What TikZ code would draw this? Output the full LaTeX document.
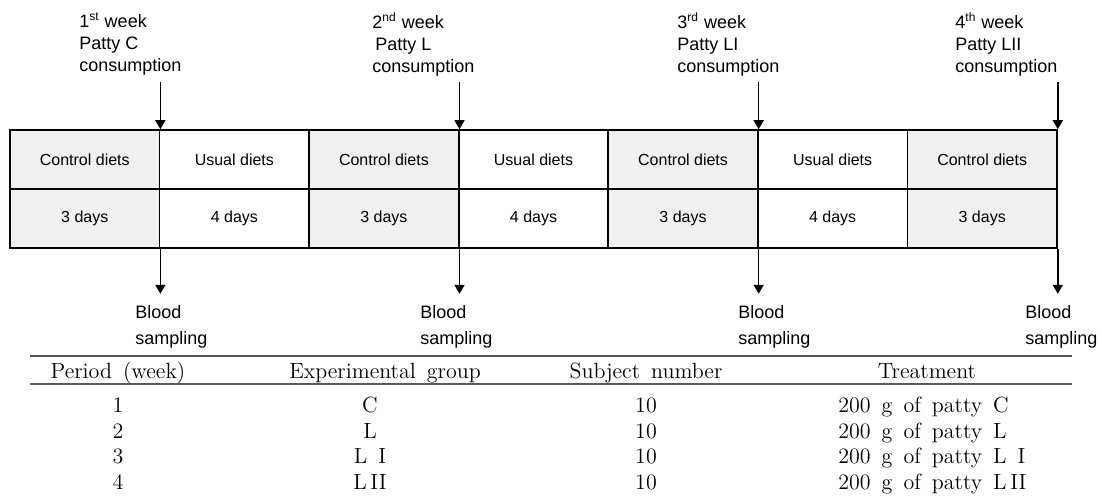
\documentclass[tikz,border=0pt]{standalone}
\usepackage{fontspec}
\setsansfont{Liberation Sans}
\usetikzlibrary{arrows.meta}

\tikzset{
    dietcell/.style={draw, line width=0.8pt, minimum width=74.79pt, minimum height=29.5pt, inner sep=0pt, font=\sffamily\fontsize{8}{10}\selectfont},
    weeklabel/.style={anchor=north west, align=left, inner sep=0pt, font=\sffamily\fontsize{9}{11}\selectfont},
    bloodlabel/.style={anchor=north west, align=left, inner sep=0pt, font=\sffamily\fontsize{9}{13}\selectfont},
    timearrow/.style={line width=0.8pt, -{Triangle[width=5pt,length=4.5pt]}},
    tablerule/.style={line width=0.9pt, black!65},
    tabtext/.style={inner sep=0pt, font={\fontsize{11}{13}\selectfont\addfontfeatures{LetterSpace=5}\spaceskip=0.5em\relax}}
}

\begin{document}
\begin{tikzpicture}[x=0.5pt, y=-0.5pt]
        \useasboundingbox (0,0) rectangle (1100,500);
        \foreach \i/\diet/\days/\shade in {1/Control diets/3 days/black!6, 2/Usual diets/4 days/white,
            3/Control diets/3 days/black!6, 4/Usual diets/4 days/white, 5/Control diets/3 days/black!6,
            6/Usual diets/4 days/white, 7/Control diets/3 days/black!6} {
            \node[dietcell, fill=\shade] (diet\i) at ({10+(\i-0.5)*149.57},159.5) {\diet};
            \node[dietcell, fill=\shade] (days\i) at ({10+(\i-0.5)*149.57},218.5) {\days};
        }

        \node[weeklabel] (wk1) at (79,12) {1\textsuperscript{st} week\\Patty C\\consumption};
        \node[weeklabel] (wk2) at (372,12) {2\textsuperscript{nd} week\\\hspace{1.5pt}Patty L\\consumption};
        \node[weeklabel] (wk3) at (677,12) {3\textsuperscript{rd} week\\Patty LI\\consumption};
        \node[weeklabel] (wk4) at (955,12) {4\textsuperscript{th} week\\Patty LII\\consumption};

        \foreach \i/\c in {1/1, 2/3, 3/5, 4/7} {
            \coordinate (eat\i) at ([yshift=23.5pt]diet\c.north east);
            \coordinate (draw\i) at ([yshift=-22.5pt]days\c.south east);
            \draw[timearrow] (eat\i) -- (diet\c.north east);
            \draw[timearrow] (days\c.south east) -- (draw\i);
        }

        \node[bloodlabel] (bs1) at (135,305) {Blood\\sampling};
        \node[bloodlabel] (bs2) at (420,305) {Blood\\sampling};
        \node[bloodlabel] (bs3) at (738,305) {Blood\\sampling};
        \node[bloodlabel] (bs4) at (1025,305) {Blood\\sampling};

        \draw[tablerule] (30,356) -- (1072,356);
        \draw[tablerule] (30,384) -- (1072,384);
        \node[tabtext, anchor=base] (hper) at (118,378) {Period (week)};
        \node[tabtext, anchor=base] (hgrp) at (385,378) {Experimental group};
        \node[tabtext, anchor=base] (hnum) at (646,378) {Subject number};
        \node[tabtext, anchor=base] (htrt) at (927,378) {Treatment};
        \foreach \r/\g/\y in {1/C/412, 2/L/438, 3/L I/463, 4/L\,II/489} {
            \node[tabtext, anchor=base] (per\r) at (118,\y) {\r};
            \node[tabtext, anchor=base] (grp\r) at (370,\y) {\g};
            \node[tabtext, anchor=base] (num\r) at (646,\y) {10};
            \node[tabtext, anchor=base west] (trt\r) at (838,\y) {200 g of patty \g};
        }
    \end{tikzpicture}
\end{document}
